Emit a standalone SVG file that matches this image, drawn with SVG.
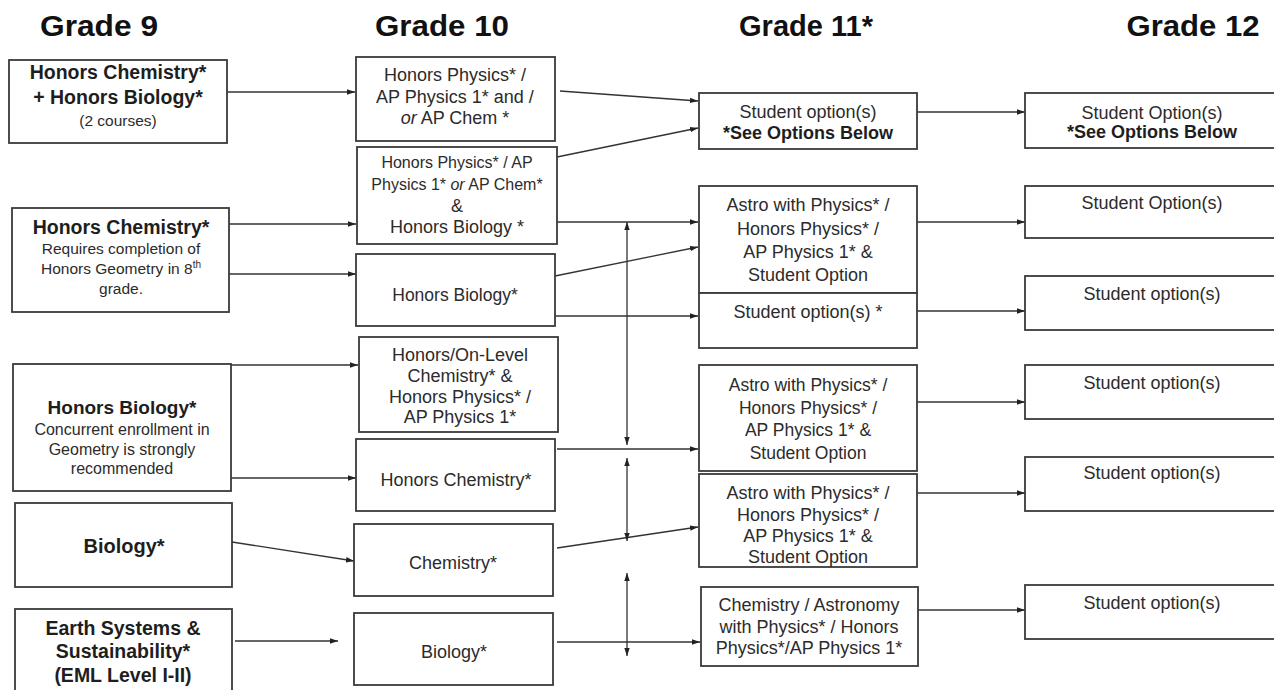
<svg xmlns="http://www.w3.org/2000/svg" width="1274" height="690" viewBox="0 0 1274 690">
<defs>
<style>
.box{fill:#fff;stroke:#3a3a3a;stroke-width:1.8}
.con{fill:none;stroke:#333;stroke-width:1.3}
text{font-family:"Liberation Sans",Arial,sans-serif;fill:#2b2b2b;text-anchor:middle}
.h{font-size:29px;font-weight:bold;fill:#111}
.b{font-weight:bold;fill:#1e1e1e}
</style>
<marker id="ah" viewBox="0 0 8 6" markerWidth="8" markerHeight="6" refX="8" refY="3" orient="auto-start-reverse" markerUnits="userSpaceOnUse">
<path d="M0,0.3 L8,3 L0,5.7 z" fill="#222"/>
</marker>
</defs>
<rect width="1274" height="690" fill="#fff"/>

<g id="headers">
<text class="h" x="99" y="36" textLength="118" lengthAdjust="spacingAndGlyphs">Grade 9</text>
<text class="h" x="442" y="36" textLength="134" lengthAdjust="spacingAndGlyphs">Grade 10</text>
<text class="h" x="806" y="36" textLength="134" lengthAdjust="spacingAndGlyphs">Grade 11*</text>
<text class="h" x="1193" y="36" textLength="133" lengthAdjust="spacingAndGlyphs">Grade 12</text>
</g>

<g id="connectors">
<line class="con" x1="227" y1="92" x2="355" y2="92" marker-end="url(#ah)"/>
<line class="con" x1="229" y1="224" x2="356" y2="224" marker-end="url(#ah)"/>
<line class="con" x1="229" y1="274" x2="356" y2="274" marker-end="url(#ah)"/>
<line class="con" x1="231" y1="365" x2="358" y2="365" marker-end="url(#ah)"/>
<line class="con" x1="231" y1="478" x2="356" y2="478" marker-end="url(#ah)"/>
<line class="con" x1="232" y1="542" x2="354" y2="561" marker-end="url(#ah)"/>
<line class="con" x1="235" y1="641" x2="338" y2="641" marker-end="url(#ah)"/>

<line class="con" x1="560" y1="91" x2="698" y2="101" marker-end="url(#ah)"/>
<line class="con" x1="557" y1="157" x2="698" y2="128" marker-end="url(#ah)"/>
<line class="con" x1="557" y1="222" x2="698" y2="222" marker-end="url(#ah)"/>
<line class="con" x1="555" y1="276" x2="698" y2="247" marker-end="url(#ah)"/>
<line class="con" x1="555" y1="316" x2="698" y2="316" marker-end="url(#ah)"/>
<line class="con" x1="557" y1="449" x2="698" y2="449" marker-end="url(#ah)"/>
<line class="con" x1="557" y1="548" x2="698" y2="527" marker-end="url(#ah)"/>
<line class="con" x1="557" y1="642" x2="700" y2="642" marker-end="url(#ah)"/>

<line class="con" x1="627" y1="222" x2="627" y2="445" marker-start="url(#ah)" marker-end="url(#ah)"/>
<line class="con" x1="627" y1="458" x2="627" y2="541" marker-start="url(#ah)" marker-end="url(#ah)"/>
<line class="con" x1="627" y1="573" x2="627" y2="656" marker-start="url(#ah)" marker-end="url(#ah)"/>

<line class="con" x1="917" y1="112" x2="1025" y2="112" marker-end="url(#ah)"/>
<line class="con" x1="917" y1="222" x2="1025" y2="222" marker-end="url(#ah)"/>
<line class="con" x1="917" y1="311" x2="1025" y2="311" marker-end="url(#ah)"/>
<line class="con" x1="917" y1="402" x2="1025" y2="402" marker-end="url(#ah)"/>
<line class="con" x1="917" y1="493" x2="1025" y2="493" marker-end="url(#ah)"/>
<line class="con" x1="918" y1="610" x2="1025" y2="610" marker-end="url(#ah)"/>
</g>

<g id="g9-hon-chem-bio">
<rect class="box" x="9" y="60" width="218" height="83"/>
<text class="b" x="118" y="79" font-size="19.5">Honors Chemistry*</text>
<text class="b" x="118" y="104" font-size="19.5">+ Honors Biology*</text>
<text x="118" y="126" font-size="15.5">(2 courses)</text>
</g>
<g id="g9-hon-chem">
<rect class="box" x="12" y="208" width="217" height="104"/>
<text class="b" x="121" y="234" font-size="19.5">Honors Chemistry*</text>
<text x="121" y="254" font-size="15.5">Requires completion of</text>
<text x="121" y="274" font-size="15.5">Honors Geometry in 8<tspan font-size="10" dy="-6">th</tspan></text>
<text x="121" y="294" font-size="15.5">grade.</text>
</g>
<g id="g9-hon-bio">
<rect class="box" x="13" y="364" width="218" height="127"/>
<text class="b" x="122" y="414" font-size="19">Honors Biology*</text>
<text x="122" y="435" font-size="16">Concurrent enrollment in</text>
<text x="122" y="455" font-size="16">Geometry is strongly</text>
<text x="122" y="474" font-size="16">recommended</text>
</g>
<g id="g9-bio">
<rect class="box" x="15" y="503" width="217" height="84"/>
<text class="b" x="124" y="553" font-size="20">Biology*</text>
</g>
<g id="g9-earth">
<rect class="box" x="15" y="609" width="217" height="95"/>
<text class="b" x="123" y="635" font-size="19.5">Earth Systems &amp;</text>
<text class="b" x="123" y="658" font-size="19.5">Sustainability*</text>
<text class="b" x="123" y="682" font-size="19.5">(EML Level I-II)</text>
</g>

<g id="g10-phys-chem">
<rect class="box" x="356" y="57" width="199" height="84"/>
<text x="455" y="81" font-size="18">Honors Physics* /</text>
<text x="455" y="103" font-size="18">AP Physics 1* and /</text>
<text x="455" y="124" font-size="18"><tspan font-style="italic">or</tspan> AP Chem *</text>
</g>
<g id="g10-phys-bio">
<rect class="box" x="357" y="147" width="200" height="97"/>
<text x="457" y="168" font-size="16">Honors Physics* / AP</text>
<text x="457" y="190" font-size="16">Physics 1* <tspan font-style="italic">or</tspan> AP Chem*</text>
<text x="457" y="212" font-size="18">&amp;</text>
<text x="457" y="233" font-size="18">Honors Biology *</text>
</g>
<g id="g10-hon-bio">
<rect class="box" x="356" y="254" width="199" height="72"/>
<text x="455" y="301" font-size="17.5">Honors Biology*</text>
</g>
<g id="g10-chem-phys">
<rect class="box" x="359" y="337" width="199" height="95"/>
<text x="460" y="361" font-size="18">Honors/On-Level</text>
<text x="460" y="382" font-size="18">Chemistry* &amp;</text>
<text x="460" y="403" font-size="18">Honors Physics* /</text>
<text x="460" y="423" font-size="18">AP Physics 1*</text>
</g>
<g id="g10-hon-chem">
<rect class="box" x="356" y="439" width="199" height="72"/>
<text x="456" y="486" font-size="18">Honors Chemistry*</text>
</g>
<g id="g10-chem">
<rect class="box" x="354" y="524" width="199" height="72"/>
<text x="453" y="569" font-size="18">Chemistry*</text>
</g>
<g id="g10-bio">
<rect class="box" x="354" y="613" width="199" height="72"/>
<text x="454" y="658" font-size="18">Biology*</text>
</g>

<g id="g11-options">
<rect class="box" x="699" y="93" width="218" height="56"/>
<text x="808" y="118" font-size="18">Student option(s)</text>
<text class="b" x="808" y="139" font-size="18">*See Options Below</text>
</g>
<g id="g11-astro-1">
<rect class="box" x="699" y="186" width="218" height="107"/>
<text x="808" y="211" font-size="18">Astro with Physics* /</text>
<text x="808" y="235" font-size="18">Honors Physics* /</text>
<text x="808" y="258" font-size="18">AP Physics 1* &amp;</text>
<text x="808" y="281" font-size="18">Student Option</text>
</g>
<g id="g11-options-2">
<rect class="box" x="699" y="293" width="218" height="55"/>
<text x="808" y="318" font-size="18">Student option(s) *</text>
</g>
<g id="g11-astro-2">
<rect class="box" x="699" y="365" width="218" height="106"/>
<text x="808" y="391" font-size="17.5">Astro with Physics* /</text>
<text x="808" y="414" font-size="17.5">Honors Physics* /</text>
<text x="808" y="436" font-size="17.5">AP Physics 1* &amp;</text>
<text x="808" y="459" font-size="17.5">Student Option</text>
</g>
<g id="g11-astro-3">
<rect class="box" x="699" y="474" width="218" height="93"/>
<text x="808" y="499" font-size="18">Astro with Physics* /</text>
<text x="808" y="521" font-size="18">Honors Physics* /</text>
<text x="808" y="542" font-size="18">AP Physics 1* &amp;</text>
<text x="808" y="563" font-size="18">Student Option</text>
</g>
<g id="g11-chem-astro">
<rect class="box" x="701" y="587" width="217" height="79"/>
<text x="809" y="611" font-size="18">Chemistry / Astronomy</text>
<text x="809" y="633" font-size="18">with Physics* / Honors</text>
<text x="809" y="654" font-size="18">Physics*/AP Physics 1*</text>
</g>

<g id="g12-options-1">
<rect class="box" x="1025" y="93" width="260" height="55"/>
<text x="1152" y="119" font-size="18">Student Option(s)</text>
<text class="b" x="1152" y="138" font-size="18">*See Options Below</text>
</g>
<g id="g12-options-2">
<rect class="box" x="1025" y="186" width="260" height="52"/>
<text x="1152" y="209" font-size="18">Student Option(s)</text>
</g>
<g id="g12-options-3">
<rect class="box" x="1025" y="276" width="260" height="54"/>
<text x="1152" y="300" font-size="18">Student option(s)</text>
</g>
<g id="g12-options-4">
<rect class="box" x="1025" y="365" width="260" height="54"/>
<text x="1152" y="389" font-size="18">Student option(s)</text>
</g>
<g id="g12-options-5">
<rect class="box" x="1025" y="457" width="260" height="54"/>
<text x="1152" y="479" font-size="18">Student option(s)</text>
</g>
<g id="g12-options-6">
<rect class="box" x="1025" y="585" width="260" height="54"/>
<text x="1152" y="609" font-size="18">Student option(s)</text>
</g>
</svg>
